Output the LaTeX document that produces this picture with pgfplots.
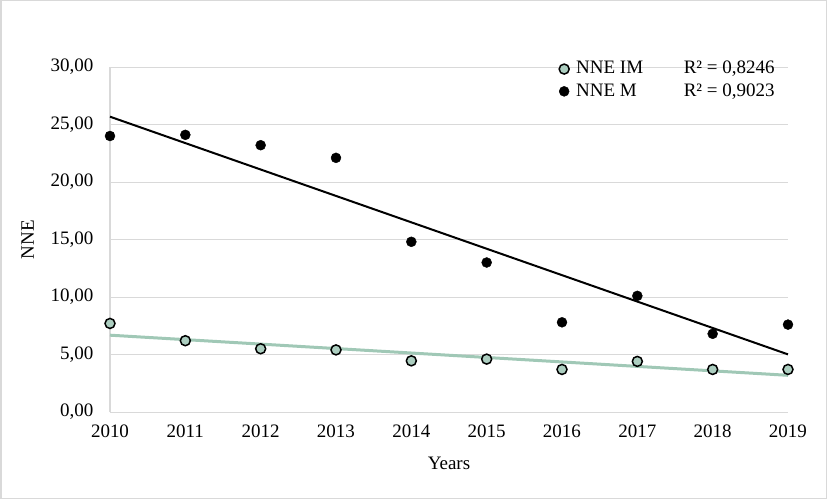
\documentclass[border=0pt]{standalone}
\usepackage{fontspec}
\setmainfont{Liberation Serif}
\usepackage{pgfplots}
\usepackage{pgfplotstable}
\pgfplotsset{compat=1.18}

\definecolor{imfill}{RGB}{172,206,192}
\definecolor{imline}{RGB}{160,200,182}
\definecolor{gridgray}{RGB}{217,217,217}

\pgfplotstableread{
year im m
2010 7.7 24.0
2011 6.2 24.1
2012 5.5 23.2
2013 5.4 22.1
2014 4.45 14.8
2015 4.6 13.0
2016 3.7 7.8
2017 4.4 10.1
2018 3.7 6.8
2019 3.7 7.6
}\datatable

% linear trend lines (least squares fit of the points above)
\pgfplotstableread{
year im m
2010 6.68 25.68
2019 3.19 5.01
}\trendtable

\begin{document}
\begin{tikzpicture}[x=1pt,y=1pt]
\fontsize{19}{22}\selectfont
\draw[gridgray, line width=1.5pt] (0.75,0.75) rectangle (826.25,498.25);
\begin{axis}[
    at={(110pt,87pt)}, anchor=south west,
    scale only axis, width=678pt, height=345pt,
    xmin=2010, xmax=2019, ymin=0, ymax=30,
    xtick={2010,...,2019}, ytick={0,5,...,30},
    axis x line=bottom, axis y line=left,
    axis line style={gridgray, line width=1pt, -},
    ymajorgrids, grid style={gridgray, line width=1pt},
    major tick length=0pt,
    tick label style={font=\fontsize{19}{22}\selectfont},
    label style={font=\fontsize{19}{22}\selectfont},
    /pgf/number format/assume math mode=true,
    x tick label style={/pgf/number format/1000 sep={}, yshift=-6pt},
    y tick label style={/pgf/number format/fixed, /pgf/number format/fixed zerofill,
        /pgf/number format/precision=2, /pgf/number format/use comma, xshift=-10pt},
    xlabel={Years}, ylabel={NNE},
    xlabel style={yshift=-7pt},
    ylabel style={yshift=4pt},
    clip=false,
    legend style={draw=none, fill=none, at={(axis cs:2015.92,30.85)}, anchor=north west,
        font=\fontsize{19}{22}\selectfont, row sep=3pt,
        /tikz/every odd column/.append style={column sep=5pt}},
    legend cell align=left,
]
\addplot[imline, line width=3pt, forget plot] table[x=year, y=im] {\trendtable};
\addplot[black, line width=2pt, forget plot] table[x=year, y=m] {\trendtable};
\addplot[only marks, mark=*, mark size=5pt, mark options={fill=imfill, draw=black, line width=1.5pt}] table[x=year, y=im] {\datatable};
\addlegendentry{NNE IM}
\addplot[only marks, mark=*, mark size=5pt, mark options={fill=black, draw=black}] table[x=year, y=m] {\datatable};
\addlegendentry{NNE M}
\node[anchor=west] at (axis cs:2017.53,29.85) {R² = 0,8246};
\node[anchor=west] at (axis cs:2017.53,27.9) {R² = 0,9023};
\end{axis}
\end{tikzpicture}
\end{document}
